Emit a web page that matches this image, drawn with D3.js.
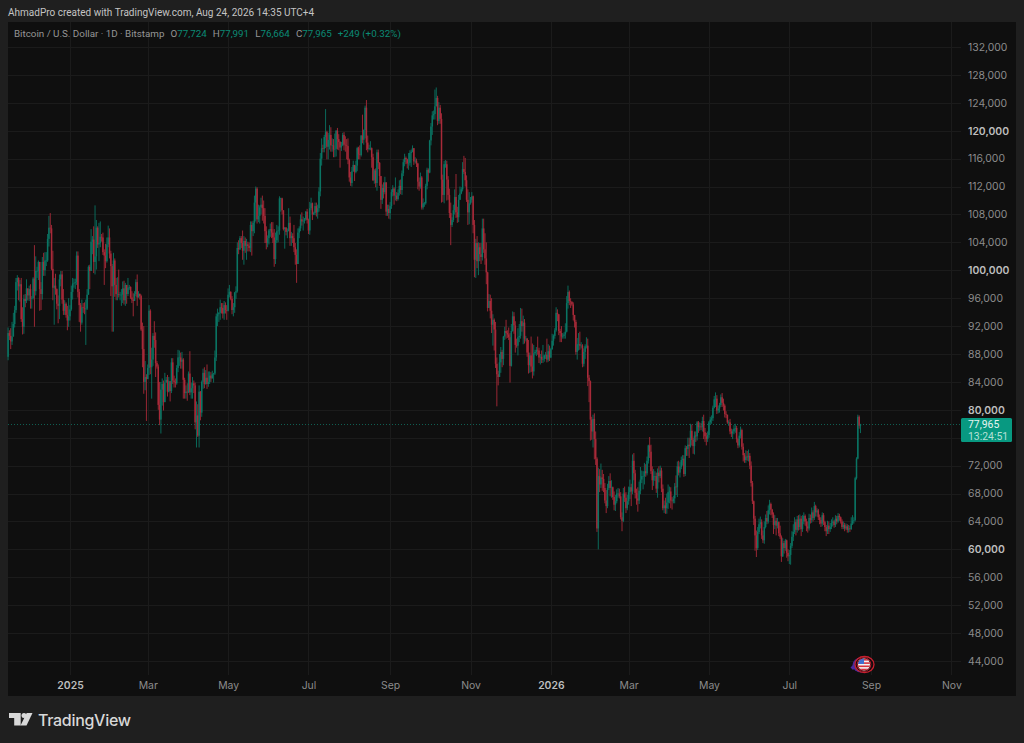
<!DOCTYPE html>
<html>
<head>
<meta charset="utf-8">
<title>Bitcoin / U.S. Dollar</title>
<script src="https://cdn.jsdelivr.net/npm/d3@7"></script>
<style>
    html, body { margin: 0; padding: 0; background: #1f1f1f; overflow: hidden; }
    svg { display: block; font-family: Inter, Roboto, sans-serif; }
</style>
</head>
<body>
<svg id="chart"></svg>
<script>
// daily candles from 15 Nov 2024 to 24 Aug 2026, thousands of USD, one row per month
const firstDay = '2024-11-15';
const firstOpen = 87.6;

const closes = [
    91.0,90.6,89.8,90.5,92.3,94.3,98.3,98.9,97.7,98.0,93.0,91.9,95.9,95.6,97.4,96.4,
    97.3,95.9,96.0,98.8,97.0,99.9,99.9,101.2,97.3,96.6,101.2,100.0,101.4,101.4,104.5,106.1,106.0,100.2,97.5,97.8,97.3,95.2,94.9,98.7,99.4,95.8,94.2,95.2,93.6,92.8,93.4,
    94.4,96.9,98.1,98.2,98.3,102.1,96.9,95.0,92.5,94.7,94.6,94.5,94.5,96.5,100.5,99.9,104.1,104.4,101.2,102.0,106.1,103.7,103.9,104.8,104.7,102.6,102.1,101.3,103.7,104.7,102.4,
    100.6,97.7,101.4,97.9,96.6,96.6,96.5,96.5,96.5,97.4,95.7,97.9,96.6,97.5,97.6,96.1,95.8,95.6,96.6,98.3,96.1,96.6,96.3,91.5,88.7,84.0,84.7,84.4,
    86.0,94.2,86.1,87.2,90.6,90.0,86.7,86.2,80.7,78.6,82.9,83.7,81.1,83.9,84.3,82.6,84.1,82.7,86.8,84.2,84.0,83.8,86.0,87.5,87.5,86.9,87.2,84.3,82.4,82.6,82.5,
    85.2,82.5,83.1,83.8,83.5,78.2,79.2,76.3,82.6,79.6,84.0,85.3,83.7,84.6,83.7,84.0,84.9,84.5,85.1,85.2,87.5,93.4,93.7,93.9,94.7,94.6,93.8,95.0,94.3,94.2,
    96.5,96.9,95.9,94.3,94.7,96.8,97.0,103.2,103.0,104.6,103.9,102.8,104.2,103.5,103.7,103.5,103.2,106.5,105.6,106.8,109.7,111.7,107.3,107.8,109.0,109.4,108.9,107.8,105.6,103.9,104.6,
    105.7,105.9,105.4,104.7,101.6,104.3,105.6,105.7,110.3,110.3,108.6,105.9,106.1,105.5,105.6,106.8,104.6,104.9,104.6,103.3,102.2,100.9,105.4,106.0,107.3,107.0,107.1,107.3,108.4,107.2,
    105.7,108.9,109.6,108.0,108.2,109.2,108.3,108.9,111.3,116.0,117.5,117.4,119.1,119.8,117.7,118.7,119.4,117.9,117.9,117.3,117.4,120.0,118.8,118.4,117.6,117.9,119.4,118.0,117.9,117.8,115.8,
    113.3,112.5,114.2,115.1,114.1,115.0,117.5,116.6,116.5,119.3,118.7,120.1,123.3,118.3,117.4,117.5,117.5,116.2,112.9,114.3,112.5,116.9,115.4,113.5,110.1,111.8,111.2,112.6,108.4,108.8,108.2,
    109.2,111.2,111.7,110.7,110.7,110.2,111.1,112.1,111.5,113.9,115.5,116.1,115.9,115.3,115.4,116.8,117.0,117.5,115.6,115.7,115.3,112.7,112.0,113.3,109.0,109.6,109.6,112.1,114.4,114.0,
    118.6,120.6,122.2,122.4,123.5,124.7,121.4,123.3,121.7,113.0,110.8,115.2,115.2,113.0,110.8,108.2,106.5,107.2,108.6,110.5,108.3,107.6,110.1,111.0,111.6,114.5,114.1,112.9,110.1,108.3,109.6,
    110.1,110.6,106.5,101.5,103.9,101.3,103.3,102.3,101.9,106.0,103.0,101.7,99.7,94.6,95.6,94.2,92.2,92.9,91.5,86.6,85.1,84.7,86.8,88.3,87.3,90.5,91.3,91.0,90.8,90.4,
    86.3,91.3,93.4,92.1,89.3,89.2,90.4,90.6,92.7,92.0,92.5,90.2,90.2,88.2,86.4,87.8,86.2,85.5,88.1,88.3,88.6,88.5,87.5,87.6,87.2,87.3,87.8,87.9,87.2,88.4,87.5,
    88.7,89.9,90.6,91.4,93.9,93.7,91.3,91.0,90.5,90.6,90.8,91.2,95.3,96.9,95.6,95.5,95.1,93.6,92.6,88.3,89.4,89.4,89.2,89.2,86.6,88.3,89.1,89.2,84.6,84.1,78.6,
    76.9,78.7,75.8,73.0,63.0,70.5,69.3,70.3,70.1,68.8,67.0,66.2,68.8,69.8,68.8,68.9,67.5,66.4,66.9,68.0,68.0,67.6,64.6,64.1,68.0,67.4,65.9,66.9,
    68.2,68.9,68.3,72.7,70.9,68.1,67.3,67.0,68.4,70.0,70.5,70.5,71.2,70.9,72.7,74.9,74.0,71.2,69.9,70.5,70.5,68.7,71.0,70.5,71.3,68.7,65.9,66.3,65.9,66.7,68.2,
    68.3,67.0,66.9,67.3,69.0,68.9,71.9,71.0,71.8,72.8,73.0,70.8,74.5,74.4,75.0,74.8,77.0,75.7,74.8,76.3,76.2,78.2,77.5,77.6,77.5,78.4,76.8,76.2,75.8,76.4,
    78.2,78.6,78.8,80.3,81.5,81.6,79.9,80.2,80.7,81.8,81.0,80.6,79.4,79.3,78.2,78.2,76.9,76.6,76.9,77.3,77.4,75.8,74.9,76.3,77.1,74.7,73.5,72.8,73.3,73.2,73.4,
    72.0,69.5,66.9,64.4,62.0,60.2,62.5,63.6,63.9,62.0,61.3,63.2,64.5,64.0,65.6,66.5,65.7,65.0,63.5,64.1,63.4,63.9,62.3,61.8,59.0,60.9,60.2,61.3,59.5,59.0,
    59.2,60.5,61.8,62.5,63.9,62.8,64.3,63.2,64.4,62.9,64.0,64.8,64.0,63.3,63.0,64.5,64.2,65.3,64.5,66.2,65.3,65.6,64.6,64.2,63.7,64.9,63.9,63.2,62.6,63.4,62.9,
    63.2,63.8,64.0,63.5,64.4,64.0,64.8,64.6,64.0,63.2,63.5,63.0,63.3,62.8,63.0,62.9,63.7,64.1,64.2,70.2,73.0,79.0,77.724,77.965
];

const highs = [
    91.8,91.4,91.7,92.6,93.9,94.9,98.9,99.3,99.0,98.6,98.9,94.7,96.5,96.6,98.7,97.4,
    97.8,98.0,96.3,99.0,103.6,102.0,100.5,101.4,101.2,98.3,101.9,102.5,102.6,102.6,105.2,107.8,108.2,106.5,102.8,98.9,99.5,97.4,96.4,99.4,99.9,99.9,97.3,95.7,95.4,94.9,96.0,
    95.0,97.8,98.9,98.8,98.8,102.7,102.7,97.3,95.3,95.8,95.3,95.4,95.8,97.3,100.7,100.8,105.9,104.9,106.3,109.3,107.2,106.3,106.8,107.0,105.2,105.4,103.0,103.8,104.7,106.4,106.0,
    102.8,100.9,102.5,101.7,98.9,99.0,100.1,96.9,97.3,98.4,98.5,98.2,97.3,98.9,97.9,97.7,97.0,96.7,97.0,98.7,99.4,97.0,96.7,96.5,92.5,92.0,87.0,85.1,
    86.5,95.0,94.4,88.9,91.0,92.7,91.1,87.0,86.5,84.0,84.0,84.5,84.2,85.3,84.7,85.0,84.7,84.0,87.4,87.4,84.9,84.5,86.4,88.6,88.5,88.2,88.3,87.4,84.6,83.5,83.8,
    85.5,88.4,83.9,84.7,84.2,83.9,81.2,80.8,83.5,82.7,84.2,85.9,86.1,85.7,86.5,85.5,85.5,85.4,85.6,85.3,88.5,93.8,94.5,94.0,95.8,95.3,95.3,95.6,95.4,95.0,
    97.4,97.9,97.0,96.3,95.3,96.9,97.7,104.0,104.3,104.9,104.9,105.7,104.9,104.7,104.5,104.1,104.0,107.0,107.0,107.1,110.7,112.0,111.9,109.4,109.3,110.4,110.7,110.0,108.9,106.3,105.0,
    105.9,106.7,106.9,106.9,105.9,105.4,106.5,106.3,110.6,110.4,110.4,108.4,106.2,106.2,106.0,108.9,107.7,105.5,105.3,106.5,103.9,103.0,106.0,106.3,108.0,108.3,107.7,107.5,108.5,108.8,
    107.4,109.8,110.4,109.7,108.4,109.7,109.7,109.4,111.9,116.8,118.9,118.0,119.4,123.1,120.0,119.7,120.8,120.5,118.9,118.8,119.6,120.1,120.4,119.5,118.5,118.4,119.7,119.8,119.2,118.8,118.9,
    116.0,114.1,114.8,115.7,115.1,115.7,117.7,117.7,117.9,119.4,122.3,120.2,123.6,124.4,119.3,118.0,118.5,117.6,116.7,114.5,114.6,117.3,117.3,115.5,113.5,112.3,112.6,113.4,112.6,109.4,109.4,
    109.8,111.6,112.2,111.9,113.3,111.2,111.6,112.9,113.0,114.3,115.9,116.7,116.3,116.0,116.8,117.2,117.3,117.9,117.5,116.2,116.0,115.4,113.3,114.0,113.5,110.3,109.8,112.4,114.7,114.6,
    118.7,121.1,122.8,122.9,125.9,126.2,125.0,124.1,123.7,122.5,113.7,115.7,115.8,115.7,113.5,111.7,109.7,107.6,109.4,111.6,113.8,109.1,110.8,112.0,111.9,115.5,116.4,116.1,113.6,111.6,111.2,
    110.5,111.2,110.7,107.2,104.5,104.9,104.0,103.9,103.9,107.4,107.4,105.3,104.0,99.8,96.6,96.5,96.0,93.7,93.1,92.6,87.5,85.6,88.0,89.0,88.6,90.6,91.9,92.9,91.4,91.8,
    91.0,92.3,94.1,94.0,92.7,90.2,91.7,92.3,94.6,94.5,93.5,93.0,90.6,90.3,90.0,88.2,90.5,89.5,89.3,88.6,89.0,90.5,88.9,88.0,88.5,89.3,87.9,88.3,90.2,89.4,89.2,
    88.9,90.9,90.8,91.7,94.7,94.4,93.7,91.6,92.0,91.0,91.1,92.4,96.3,97.8,97.1,96.0,95.5,95.4,93.4,92.9,90.3,91.0,91.2,89.7,89.4,88.8,89.4,90.4,90.2,85.0,84.2,
    79.0,79.3,79.5,76.9,73.2,71.7,71.5,72.3,71.4,70.8,69.5,68.5,69.4,70.5,70.9,69.9,69.0,68.3,67.8,68.6,68.8,68.7,68.2,65.3,68.8,69.0,68.2,67.8,
    69.0,70.0,69.4,73.6,73.8,71.4,68.7,68.9,69.7,71.8,71.3,71.2,72.4,72.2,73.3,75.0,76.1,75.0,71.9,71.5,71.2,71.0,71.6,71.9,72.0,71.7,69.3,67.0,67.4,68.0,69.3,
    69.0,68.9,67.5,67.7,69.5,70.6,72.6,72.7,72.5,73.3,73.5,73.5,74.9,74.8,76.0,76.0,78.0,77.9,76.0,76.9,76.9,78.4,78.4,78.2,78.1,79.0,79.3,77.4,76.7,76.9,
    78.4,79.0,79.2,80.6,82.0,82.5,82.1,80.6,81.0,82.2,82.4,81.6,80.8,79.8,79.3,78.5,78.7,77.3,77.2,77.8,78.0,77.7,76.0,76.8,77.6,77.3,75.2,73.8,74.2,74.1,74.3,
    73.8,72.6,69.8,67.0,64.8,62.7,63.2,64.4,64.7,64.3,62.7,64.0,65.0,65.5,66.3,67.1,66.7,65.8,65.3,64.9,64.5,64.5,64.0,63.4,62.0,61.6,61.2,61.5,61.4,60.0,
    59.9,60.9,62.6,63.6,64.6,64.3,64.8,64.9,65.0,64.8,64.9,65.3,65.0,64.4,64.0,65.1,65.0,66.0,65.6,66.8,66.4,65.9,65.8,65.0,64.6,65.3,65.2,64.1,63.5,64.1,64.0,
    63.8,64.3,64.6,64.2,64.9,64.8,65.2,65.1,64.7,64.3,64.0,63.8,63.7,63.6,63.5,63.4,64.6,64.9,64.6,70.4,73.2,79.3,79.2,77.991
];

const lows = [
    87.1,90.0,88.7,89.3,91.5,91.8,93.9,97.1,95.7,95.5,92.6,90.8,90.9,94.7,95.3,95.7,
    95.6,94.5,94.5,95.8,91.9,96.4,98.9,98.6,94.2,94.3,95.8,99.2,99.2,100.6,101.2,103.4,105.3,100.0,95.7,92.2,96.5,94.4,92.4,93.0,97.7,95.2,93.6,93.6,93.2,91.4,91.9,
    92.8,94.2,95.8,97.5,97.3,97.9,96.1,92.6,91.2,92.2,93.9,93.7,89.3,94.3,96.5,97.3,100.2,102.3,99.6,99.4,100.1,103.2,101.3,103.3,104.1,102.2,97.9,100.3,101.1,103.3,101.7,
    96.3,91.2,91.2,96.2,95.7,95.7,96.1,95.7,94.9,95.3,95.1,94.9,95.2,96.3,97.2,95.9,95.3,93.4,95.6,96.3,94.9,96.2,95.8,91.3,86.1,82.3,82.8,78.4,
    84.6,85.0,85.1,81.6,86.3,88.9,84.7,85.9,80.0,77.8,76.6,80.6,79.9,81.1,83.9,81.9,82.5,81.2,82.4,83.7,83.2,83.2,83.6,85.4,86.3,85.9,85.9,81.6,81.6,81.6,81.3,
    82.4,82.1,81.6,81.6,82.4,77.2,74.6,76.1,74.6,78.5,79.0,83.0,83.1,83.6,83.0,83.3,83.7,84.0,84.6,83.9,85.0,87.0,92.0,92.6,92.9,93.8,93.1,92.9,93.8,92.9,
    94.1,96.1,95.7,93.7,93.4,93.9,95.9,96.8,102.3,102.9,103.2,101.5,100.8,102.5,101.5,102.7,102.7,102.6,102.1,104.9,105.3,107.0,106.7,106.9,106.7,108.0,107.1,106.7,103.9,103.0,103.3,
    103.7,104.8,104.6,103.9,100.5,100.9,103.9,104.0,105.1,108.4,108.0,105.7,103.1,105.0,104.6,105.6,103.5,103.5,103.9,102.6,100.8,98.2,101.0,104.6,105.6,106.4,105.7,106.7,107.1,106.7,
    105.2,105.1,108.6,107.2,107.9,107.9,107.7,107.4,108.4,110.6,115.0,116.9,116.9,117.5,115.9,115.9,117.3,117.0,117.0,116.2,116.2,116.3,117.3,117.2,114.7,117.1,117.8,117.2,117.0,115.9,115.2,
    112.7,112.1,112.0,114.1,112.8,113.9,114.2,115.9,115.9,116.3,118.2,118.0,118.9,117.2,116.9,117.2,117.2,114.7,112.8,112.4,111.9,111.4,114.5,112.1,108.8,109.5,110.3,110.9,107.8,107.8,107.4,
    107.3,108.8,110.6,109.4,110.0,109.9,110.0,110.7,110.9,110.8,113.5,114.9,115.2,114.6,114.4,115.0,114.8,116.9,115.1,115.3,114.8,111.6,111.4,111.7,108.7,108.7,109.1,109.4,111.6,112.7,
    113.9,117.9,119.4,121.6,121.6,123.8,120.8,121.0,121.0,109.7,109.8,109.6,114.7,110.0,110.1,107.5,103.6,106.2,106.9,108.0,107.5,106.8,106.9,110.3,110.9,111.3,113.8,112.0,109.8,106.5,106.6,
    109.4,109.7,105.3,99.0,98.9,100.3,99.3,101.3,100.9,101.4,102.5,100.8,98.0,94.1,94.6,93.1,91.0,89.2,88.5,86.0,80.5,83.5,84.7,85.3,86.1,86.4,90.0,90.2,90.3,90.0,
    83.9,86.2,91.2,90.9,88.2,88.9,87.8,89.7,90.2,91.2,89.4,89.5,89.8,87.6,85.2,85.3,85.4,84.5,84.9,87.9,87.7,87.9,86.7,86.5,86.7,86.7,86.9,87.3,86.8,86.9,87.0,
    87.4,88.6,89.2,90.2,91.2,92.7,90.7,89.7,89.7,90.2,90.2,90.2,91.1,94.5,95.0,94.6,94.9,92.8,91.8,87.9,87.2,88.5,88.6,88.8,86.1,86.2,87.3,88.8,83.4,81.1,75.6,
    75.7,74.6,72.9,72.1,62.5,60.0,68.2,68.8,68.4,68.2,66.6,65.2,65.9,68.5,67.6,67.4,67.1,65.6,65.5,66.6,67.4,67.3,64.3,62.6,63.9,66.8,65.2,65.6,
    66.4,67.2,66.2,67.9,69.9,67.3,66.4,65.4,66.5,67.9,69.5,68.6,69.3,70.4,70.6,72.3,73.1,70.8,68.5,69.1,69.8,68.1,67.4,69.6,70.2,68.2,65.6,65.2,65.1,65.1,65.8,
    66.6,65.9,65.7,66.6,66.6,67.8,67.5,70.6,70.3,71.5,72.0,70.4,70.5,73.4,73.4,73.1,74.6,74.9,73.7,73.6,75.4,75.6,76.7,77.0,77.1,76.9,75.8,75.4,74.9,75.4,
    76.0,77.9,78.0,78.4,80.2,80.4,79.4,79.5,79.6,80.4,80.4,79.9,78.9,78.8,78.0,77.7,76.5,76.1,75.8,76.5,76.7,75.3,74.5,74.6,75.9,74.3,72.6,72.4,72.4,72.7,72.6,
    71.5,69.0,66.5,63.5,59.8,58.9,59.9,62.2,63.0,61.5,60.9,60.8,63.0,63.6,63.7,65.0,64.9,64.5,62.2,62.9,62.0,63.0,61.9,61.5,58.2,58.9,59.4,59.8,58.8,58.3,
    57.9,57.8,60.2,61.2,62.2,62.0,62.4,62.7,62.8,61.9,62.5,63.6,63.4,62.6,62.4,62.7,63.7,63.8,64.0,64.2,64.7,64.7,64.2,63.6,63.2,63.3,63.5,62.6,61.9,62.2,62.2,
    62.5,62.9,63.3,63.1,63.2,63.6,63.8,64.1,63.7,62.9,62.9,62.6,62.8,62.4,62.4,62.5,62.8,63.5,63.7,64.0,70.0,72.9,77.3,76.664
];

const priceTicks = [44000, 48000, 52000, 56000, 60000, 64000, 68000, 72000, 76000, 80000, 84000, 88000,
    92000, 96000, 100000, 104000, 108000, 112000, 116000, 120000, 124000, 128000, 132000];
const boldPrices = [60000, 80000, 100000, 120000];
const hiddenPrice = 76000; // sits behind the price tag
const timeTicks = ['2025-01-01', '2025-03-01', '2025-05-01', '2025-07-01', '2025-09-01', '2025-11-01',
    '2026-01-01', '2026-03-01', '2026-05-01', '2026-07-01', '2026-09-01', '2026-11-01'];
const timeLabels = ['2025', 'Mar', 'May', 'Jul', 'Sep', 'Nov', '2026', 'Mar', 'May', 'Jul', 'Sep', 'Nov'];
const boldTimes = ['2025', '2026'];

const headerText = 'AhmadPro created with TradingView.com, Aug 24, 2026 14:35 UTC+4';
const symbolText = 'Bitcoin / U.S. Dollar · 1D · Bitstamp';
const legendItems = [
    { key: 'O', value: '77,724' },
    { key: 'H', value: '77,991' },
    { key: 'L', value: '76,664' },
    { key: 'C', value: '77,965' }
];
const changeText = '+249 (+0.32%)';
const lastPrice = 77965;
const countdown = '13:24:51';

const upColor = '#0a7463';
const downColor = '#a82a39';
const paneColor = '#0f0f0f';
const gridColor = '#1b1b1b';

const pane = { left: 8, top: 22, right: 1016, bottom: 696, plotRight: 961, plotBottom: 675 };

const parseDay = d3.utcParse('%Y-%m-%d');
const start = parseDay(firstDay);
const candles = closes.map((close, i) => {
    const open = i === 0 ? firstOpen : closes[i - 1];
    return {
        date: d3.utcDay.offset(start, i),
        open: open * 1000,
        close: close * 1000,
        high: Math.max(highs[i], open, close) * 1000,
        low: Math.min(lows[i], open, close) * 1000
    };
});

const svg = d3.select('#chart').attr('width', 1024).attr('height', 743);

svg.append('rect')
    .attr('x', pane.left).attr('y', pane.top)
    .attr('width', pane.right - pane.left).attr('height', pane.bottom - pane.top)
    .attr('fill', paneColor);

// x anchored on the 2025 and Sep 2026 ticks
const xScale = d3.scaleUtc()
    .domain([parseDay('2025-01-01'), parseDay('2026-09-01')])
    .range([70, 871]);
const yScale = d3.scaleLinear()
    .domain([44000, 132000])
    .range([661, 47]);

// grid
const gridG = svg.append('g').attr('stroke', gridColor).attr('stroke-width', 1);
gridG.selectAll('.h')
    .data(priceTicks)
    .join('line')
    .attr('class', 'h')
    .attr('x1', pane.left).attr('x2', pane.plotRight)
    .attr('y1', d => Math.round(yScale(d)) + 0.5).attr('y2', d => Math.round(yScale(d)) + 0.5);
gridG.selectAll('.v')
    .data(timeTicks)
    .join('line')
    .attr('class', 'v')
    .attr('y1', pane.top).attr('y2', pane.plotBottom)
    .attr('x1', d => Math.round(xScale(parseDay(d))) + 0.5).attr('x2', d => Math.round(xScale(parseDay(d))) + 0.5);

// axes
const yAxis = d3.axisRight(yScale)
    .tickValues(priceTicks.filter(d => d !== hiddenPrice))
    .tickSize(0)
    .tickPadding(0)
    .tickFormat(d3.format(','));
const yAxisG = svg.append('g')
    .attr('transform', 'translate(968,0)')
    .call(yAxis);
yAxisG.select('.domain').remove();
yAxisG.selectAll('text')
    .style('font-family', 'Inter, Roboto, sans-serif')
    .style('font-size', '10.4px')
    .style('font-weight', d => boldPrices.includes(d) ? 600 : 400)
    .attr('fill', d => boldPrices.includes(d) ? '#bdbdbd' : '#8c8c8c');

const xAxis = d3.axisBottom(xScale)
    .tickValues(timeTicks.map(parseDay))
    .tickSize(0)
    .tickPadding(0)
    .tickFormat((d, i) => timeLabels[i]);
const xAxisG = svg.append('g')
    .attr('transform', 'translate(0,682)')
    .call(xAxis);
xAxisG.select('.domain').remove();
xAxisG.selectAll('text')
    .style('font-family', 'Inter, Roboto, sans-serif')
    .style('font-size', '10.4px')
    .style('font-weight', (d, i) => boldTimes.includes(timeLabels[i]) ? 600 : 400)
    .attr('fill', (d, i) => boldTimes.includes(timeLabels[i]) ? '#bdbdbd' : '#8c8c8c');

// last price line
svg.append('line')
    .attr('x1', pane.left).attr('x2', pane.plotRight)
    .attr('y1', Math.round(yScale(lastPrice)) + 0.5).attr('y2', Math.round(yScale(lastPrice)) + 0.5)
    .attr('stroke', '#0f5f52')
    .attr('stroke-dasharray', '1 2');

// candles
const candleG = svg.append('g');
candleG.selectAll('.wick')
    .data(candles)
    .join('line')
    .attr('class', 'wick')
    .attr('x1', d => xScale(d.date)).attr('x2', d => xScale(d.date))
    .attr('y1', d => yScale(d.high)).attr('y2', d => yScale(d.low))
    .attr('stroke', d => d.close >= d.open ? upColor : downColor)
    .attr('stroke-width', 0.9);
candleG.selectAll('.body')
    .data(candles)
    .join('rect')
    .attr('class', 'body')
    .attr('x', d => xScale(d.date) - 0.75)
    .attr('width', 1.5)
    .attr('y', d => yScale(Math.max(d.open, d.close)))
    .attr('height', d => Math.max(0.6, Math.abs(yScale(d.open) - yScale(d.close))))
    .attr('fill', d => d.close >= d.open ? upColor : downColor);

// price tag
const tag = svg.append('g').style('font-family', 'Roboto, sans-serif');
tag.append('rect')
    .attr('x', 961).attr('y', 418).attr('width', 51).attr('height', 24).attr('rx', 1.5)
    .attr('fill', '#089981');
tag.append('text')
    .attr('x', 968).attr('y', 428)
    .attr('font-size', 10.4)
    .attr('fill', '#e6f5f1')
    .text(d3.format(',')(lastPrice));
tag.append('text')
    .attr('x', 968).attr('y', 440)
    .attr('font-size', 10.4)
    .attr('fill', '#b5e0d7')
    .text(countdown);

// header and legend
svg.append('text')
    .attr('x', 8).attr('y', 16)
    .style('font-family', 'Roboto, sans-serif')
    .attr('font-size', 10)
    .attr('fill', '#c4c4c4')
    .text(headerText);

const legend = svg.append('text')
    .attr('x', 14).attr('y', 37)
    .style('font-family', 'Roboto, sans-serif')
    .attr('font-size', 9.8)
    .attr('fill', '#969696');
legend.append('tspan').text(symbolText);
legendItems.forEach(d => {
    legend.append('tspan').attr('dx', 6).text(d.key);
    legend.append('tspan').attr('fill', '#0b8a75').text(d.value);
});
legend.append('tspan').attr('dx', 6).attr('fill', '#0b8a75').text(changeText);

// calendar marker at the bottom
const marker = svg.append('g').attr('transform', 'translate(864,664.5)');
marker.append('ellipse')
    .attr('cx', -3).attr('cy', 0.5).attr('rx', 8.5).attr('ry', 7.5)
    .attr('fill', '#4d2a96');
marker.append('path')
    .attr('d', 'M-13.5,3 L-11,0.5 L-8.5,3 L-11,5.5 Z')
    .attr('fill', '#4a2aa0');
marker.append('ellipse')
    .attr('cx', 0.5).attr('rx', 9.5).attr('ry', 8)
    .attr('fill', '#150c0f')
    .attr('stroke', '#c8202f').attr('stroke-width', 1.3);
marker.append('circle')
    .attr('r', 6.8)
    .attr('fill', 'none')
    .attr('stroke', '#b01f2c').attr('stroke-width', 1);
marker.append('clipPath').attr('id', 'flagClip')
    .append('circle').attr('r', 6);
const flag = marker.append('g').attr('clip-path', 'url(#flagClip)');
flag.append('rect').attr('x', -7).attr('y', -7).attr('width', 14).attr('height', 14).attr('fill', '#f3f3f3');
[-5.5, -2.2, 1, 4.2].forEach(y => {
    flag.append('rect').attr('x', -7).attr('y', y).attr('width', 14).attr('height', 1.6).attr('fill', '#d8323f');
});
flag.append('rect').attr('x', -7).attr('y', -7).attr('width', 7).attr('height', 6.5).attr('fill', '#3f6fd0');

// TradingView logo
const logo = svg.append('g').attr('fill', '#d8d8d8');
logo.append('path').attr('d', 'M9,713 H20.7 V725.5 H14.2 V718 H9 Z');
logo.append('circle').attr('cx', 24).attr('cy', 715.5).attr('r', 2.5);
logo.append('path').attr('d', 'M26.7,713 H32.5 L26.5,725.5 H20.5 Z');
logo.append('text')
    .attr('x', 38).attr('y', 725.5)
    .attr('font-size', 16)
    .attr('font-weight', 500)
    .attr('letter-spacing', -0.3)
    .text('TradingView');
</script>
</body>
</html>
